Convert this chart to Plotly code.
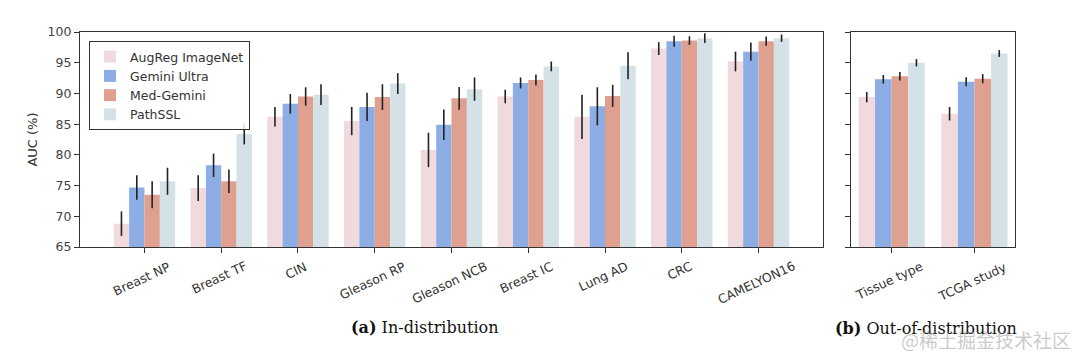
import plotly.graph_objects as go

# ---------------- data ----------------
cats_in = ["Breast NP", "Breast TF", "CIN", "Gleason RP", "Gleason NCB",
           "Breast IC", "Lung AD", "CRC", "CAMELYON16"]
cats_ood = ["Tissue type", "TCGA study"]

series_names = ["AugReg ImageNet", "Gemini Ultra", "Med-Gemini", "PathSSL"]

augreg_in = [68.8, 74.6, 86.2, 85.5, 80.8, 89.5, 86.2, 97.3, 95.2]
augreg_in_err = [2.0, 2.1, 1.6, 2.3, 2.8, 1.1, 3.6, 1.05, 1.6]
gemini_in = [74.7, 78.3, 88.3, 87.8, 84.9, 91.7, 87.9, 98.5, 96.8]
gemini_in_err = [2.0, 1.9, 1.6, 2.3, 2.5, 0.9, 3.1, 0.9, 1.5]
medgem_in = [73.5, 75.7, 89.5, 89.4, 89.2, 92.2, 89.6, 98.6, 98.5]
medgem_in_err = [2.2, 1.9, 1.5, 2.1, 1.85, 0.9, 1.8, 0.7, 0.75]
pathssl_in = [75.7, 83.4, 89.8, 91.6, 90.7, 94.4, 94.5, 99.0, 99.0]
pathssl_in_err = [2.2, 1.7, 1.7, 1.7, 1.9, 0.8, 2.2, 0.8, 0.6]

augreg_ood = [89.4, 86.7]
augreg_ood_err = [0.85, 1.1]
gemini_ood = [92.3, 91.9]
gemini_ood_err = [0.7, 0.75]
medgem_ood = [92.8, 92.4]
medgem_ood_err = [0.7, 0.75]
pathssl_ood = [95.0, 96.5]
pathssl_ood_err = [0.6, 0.55]

y_ticks = [65, 70, 75, 80, 85, 90, 95, 100]

# ---------------- styling ----------------
colors = ["#f1dadd", "#8caee4", "#e0a090", "#d4e2e8"]
W, H = 1080, 352
AX = "#333333"

def px_x(p):
    return p / W

def px_y(p):
    return 1 - p / H

fig = go.Figure()

in_vals = [(augreg_in, augreg_in_err), (gemini_in, gemini_in_err),
           (medgem_in, medgem_in_err), (pathssl_in, pathssl_in_err)]
ood_vals = [(augreg_ood, augreg_ood_err), (gemini_ood, gemini_ood_err),
            (medgem_ood, medgem_ood_err), (pathssl_ood, pathssl_ood_err)]

for i, name in enumerate(series_names):
    v, e = in_vals[i]
    fig.add_trace(go.Bar(
        x=cats_in, y=v, name=name, legendgroup=name, showlegend=True,
        marker=dict(color=colors[i], line=dict(width=0)),
        error_y=dict(type="data", array=e, visible=True, width=0,
                     thickness=1.6, color="#222222"),
        xaxis="x", yaxis="y"))
for i, name in enumerate(series_names):
    v, e = ood_vals[i]
    fig.add_trace(go.Bar(
        x=cats_ood, y=v, name=name, legendgroup=name, showlegend=False,
        marker=dict(color=colors[i], line=dict(width=0)),
        error_y=dict(type="data", array=e, visible=True, width=0,
                     thickness=1.6, color="#222222"),
        xaxis="x2", yaxis="y2"))

y_dom = [px_y(247), px_y(32)]
common_axis = dict(showline=True, linecolor=AX, linewidth=1.2, mirror=True,
                   ticks="outside", ticklen=5, tickcolor=AX, tickwidth=1,
                   showgrid=False, zeroline=False, automargin=False)

fig.update_layout(
    width=W, height=H,
    margin=dict(l=0, r=0, t=0, b=0, pad=0, autoexpand=False),
    paper_bgcolor="white", plot_bgcolor="white",
    barmode="group", bargap=0.2, bargroupgap=0,
    font=dict(family="DejaVu Sans", size=12.5, color="#333333"),
    xaxis=dict(domain=[px_x(80), px_x(823)], anchor="y", type="category",
               range=[-0.84, len(cats_in) - 1 + 0.84], showticklabels=False,
               **common_axis),
    yaxis=dict(domain=y_dom, anchor="x", range=[65, 100],
               tickvals=y_ticks, ticktext=[str(t) for t in y_ticks],
               title=dict(text="AUC (%)", standoff=6,
                          font=dict(size=13, color="#333333")),
               tickfont=dict(size=12.5, color="#444444"),
               **common_axis),
    xaxis2=dict(domain=[px_x(851), px_x(1015)], anchor="y2", type="category",
                range=[-0.49, len(cats_ood) - 1 + 0.49], showticklabels=False,
                **common_axis),
    yaxis2=dict(domain=y_dom, anchor="x2", range=[65, 100],
                tickvals=y_ticks, showticklabels=False, **common_axis),
    legend=dict(x=px_x(89), y=px_y(41), xanchor="left", yanchor="top",
                bgcolor="rgba(255,255,255,0.85)", bordercolor="#333333",
                borderwidth=1, font=dict(size=12.5, color="#333333"),
                tracegroupgap=0, itemwidth=30),
)

ann = []
label_y = px_y(256)
for c in cats_in:
    ann.append(dict(x=c, xref="x", y=label_y, yref="paper", text=c,
                    showarrow=False, textangle=-25, xanchor="center",
                    yanchor="top", xshift=-2,
                    font=dict(size=12.5, color="#333333")))
for c in cats_ood:
    ann.append(dict(x=c, xref="x2", y=label_y, yref="paper", text=c,
                    showarrow=False, textangle=-25, xanchor="center",
                    yanchor="top", xshift=-2,
                    font=dict(size=12.5, color="#333333")))

ann.append(dict(x=px_x(424), y=px_y(327), xref="paper", yref="paper",
                text="<b>(a)</b> In-distribution", showarrow=False,
                xanchor="center", yanchor="middle",
                font=dict(family="DejaVu Serif", size=16, color="#111111")))
ann.append(dict(x=px_x(926), y=px_y(328), xref="paper", yref="paper",
                text="<b>(b)</b> Out-of-distribution", showarrow=False,
                xanchor="center", yanchor="middle",
                font=dict(family="DejaVu Serif", size=16, color="#111111")))
ann.append(dict(x=px_x(1073), y=px_y(339), xref="paper", yref="paper",
                text="@稀土掘金技术社区", showarrow=False,
                xanchor="right", yanchor="middle",
                font=dict(family="Noto Sans CJK SC", size=19,
                          color="rgba(150,150,150,0.5)")))
fig.update_layout(annotations=ann)

fig.write_html("out.html")
